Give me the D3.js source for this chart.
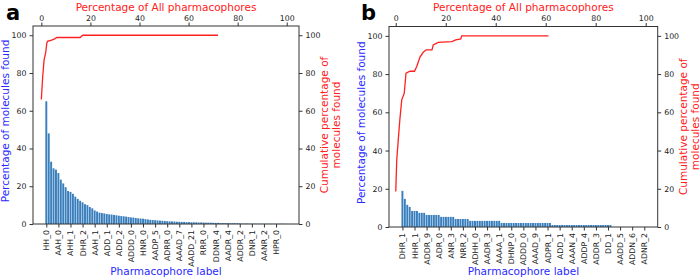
<!DOCTYPE html>
<html>
<head>
<meta charset="utf-8">
<script src="https://cdn.jsdelivr.net/npm/d3@7/dist/d3.min.js"></script>
<style>
  body { margin: 0; background: #fff; }
  text { font-family: "DejaVu Sans", sans-serif; }
</style>
</head>
<body>
<div id="canvas"></div>
<script>
// chart size
const width = 700, height = 278;

// ---- panel a data ----
// percentage of molecules found, one value per pharmacophore (sorted)
const barsA = [
  65, 48, 33, 29.5, 28.8, 27, 23.5, 21.5, 19.5, 17.5,
  17, 16, 14.5, 13.3, 12.3, 11.5, 10.5, 10, 9, 8.3,
  7.2, 6.6, 6, 5.8, 5.6, 5.3, 5.1, 5.0, 4.8, 4.6,
  4.4, 4.2, 4.1, 3.9, 3.7, 3.5, 3.4, 3.2, 3.0, 2.9,
  2.8, 2.6, 2.4, 2.2, 2.1, 2.0, 1.9, 1.8, 1.7, 1.6,
  1.5, 1.4, 1.4, 1.3, 1.2, 1.2, 1.1, 1.1, 1.0, 1.0,
  0.9, 0.9, 0.9, 0.8, 0.8, 0.8, 0.7, 0.7, 0.7, 0.6,
  0.6, 0.6, 0.5, 0.5, 0.5, 0.5, 0.4, 0.4, 0.4, 0.4,
  0.3, 0.2, 0.2, 0.2, 0.15, 0.15, 0.15, 0.1, 0.1, 0.1,
  0.1, 0.1, 0.1, 0.1, 0.1, 0.1, 0.1, 0.1, 0.1, 0.1
];
// every 5th pharmacophore gets a tick label
const tickLabelsA = ["HH_0", "AAH_0", "AHH_1", "DHR_2", "AAH_1", "ADD_1", "ADD_2", "ADDD_0",
  "HNR_0", "AADP_5", "ADRR_0", "AAAD_7", "AADD_21", "RRR_0", "DDNR_4", "AADR_4",
  "ADDR_2", "DNR_1", "AANR_2", "HPR_0"];
// cumulative percentage of molecules vs percentage of all pharmacophores
const cumXA = [0, 0.55, 1.1, 1.8, 2.2, 2.5, 4.2, 5.6, 6.3, 15.8, 16.9, 72];
const cumYA = [66, 78, 86.8, 91, 95.6, 96.8, 97.4, 98.2, 98.8, 98.8, 100, 100];

// ---- panel b data ----
const barsB = [
  18.9, 14.7, 11.6, 10.5, 8.4, 8.4, 8.4, 7.4, 7.4, 7.4,
  6.3, 6.3, 6.3, 6.3, 6.3, 6.3, 5.3, 5.3, 5.3, 5.3,
  5.3, 5.3, 4.2, 4.2, 4.2, 4.2, 4.2, 4.2, 3.2, 3.2,
  3.2, 3.2, 3.2, 3.2, 3.2, 3.2, 3.2, 3.2, 3.2, 3.2,
  3.2, 2.1, 2.1, 2.1, 2.1, 2.1, 2.1, 2.1, 2.1, 2.1,
  2.1, 2.1, 2.1, 2.1, 2.1, 2.1, 2.1, 2.1, 2.1, 2.1,
  2.1, 2.1, 1.05, 1.05, 1.05, 1.05, 1.05, 1.05, 1.05, 1.05,
  1.05, 1.05, 1.05, 1.05, 1.05, 1.05, 1.05, 1.05, 1.05, 1.05,
  1.05, 1.05, 1.05, 1.05, 1.05, 1.05, 1.05, 0, 0, 0,
  0, 0, 0, 0, 0, 0, 0, 0, 0, 0, 0
];
const tickLabelsB = ["DHR_1", "HHR_1", "ADDR_9", "ADR_0", "ANR_3", "NRR_2", "ADHH_0", "AADR_3",
  "AAAA_1", "DHNP_0", "ADDD_0", "AAAD_9", "ADPR_1", "ADD_1", "AAAN_4", "ADDP_4",
  "ADDR_3", "DD_1", "AADD_5", "ADDN_6", "ADNR_2"];
const cumXB = [0, 0.4, 0.8, 1.2, 1.7, 2.4, 3.4, 4.1, 5.7, 7.5, 8.4, 9.7, 11, 12.2, 14.5, 15, 17, 22.5, 24, 26, 26.4, 61.1];
const cumYB = [18.6, 35.2, 42, 49, 57, 66.5, 70, 80.5, 81.5, 81.5, 84, 88.9, 91.4, 92.7, 92.7, 95.3, 96.6, 97, 97.9, 98.4, 100, 100];

const pctTicks = [0, 20, 40, 60, 80, 100];

const svg = d3.select("#canvas")
  .append("svg")
  .attr("width", width)
  .attr("height", height);

const barColor = "#3a7fbd";
const frameColor = "#333";

function drawPanel(p) {
  const g = svg.append("g");
  const n = p.bars.length;

  // bottom categorical axis, matplotlib style margins of 5%
  const x = d3.scaleLinear()
    .domain([-0.5 - 0.05 * n, n - 0.5 + 0.05 * n])
    .range([p.left, p.right]);
  const xTop = d3.scaleLinear().domain(p.topDomain).range([p.left, p.right]);
  const y = d3.scaleLinear().domain([0, 104.9]).range([p.bottom, p.top]);
  const bw = x(0.8) - x(0);

  g.selectAll("rect.bar")
    .data(p.bars)
    .join("rect")
    .attr("class", "bar")
    .attr("x", (d, i) => x(i) - bw / 2)
    .attr("y", d => y(d))
    .attr("width", bw)
    .attr("height", d => y(0) - y(d))
    .attr("fill", barColor);

  // cumulative line on the top axis
  const line = d3.line()
    .x(d => xTop(d[0]))
    .y(d => y(d[1]));
  g.append("path")
    .datum(d3.zip(p.cumX, p.cumY))
    .attr("d", line)
    .attr("fill", "none")
    .attr("stroke", "#ff2020")
    .attr("stroke-width", 1.3);

  // axes
  const styleAxis = sel => {
    sel.selectAll("path.domain").remove();
    sel.selectAll(".tick line").attr("stroke", frameColor);
    sel.selectAll(".tick text").attr("fill", "#222").style("font-size", "7.8px");
  };
  const every = p.every;
  g.append("g")
    .attr("transform", `translate(0,${p.bottom})`)
    .call(d3.axisBottom(x)
      .tickValues(d3.range(0, n, every))
      .tickFormat(d => p.labels[d / every])
      .tickSize(3.5).tickPadding(2))
    .call(styleAxis)
    .call(s => s.selectAll(".tick text")
      .attr("transform", "rotate(-90)")
      .attr("text-anchor", "end")
      .attr("x", -6)
      .attr("y", 0)
      .attr("dy", "0.32em"));

  g.append("g")
    .attr("transform", `translate(0,${p.top})`)
    .call(d3.axisTop(xTop).tickValues(pctTicks).tickSize(3.5).tickPadding(2))
    .call(styleAxis);

  g.append("g")
    .attr("transform", `translate(${p.left},0)`)
    .call(d3.axisLeft(y).tickValues(pctTicks).tickSize(3.5).tickPadding(3))
    .call(styleAxis);

  g.append("g")
    .attr("transform", `translate(${p.right},0)`)
    .call(d3.axisRight(y).tickValues(pctTicks).tickSize(3.5).tickPadding(3))
    .call(styleAxis);

  // frame
  g.append("rect")
    .attr("x", p.left).attr("y", p.top)
    .attr("width", p.right - p.left).attr("height", p.bottom - p.top)
    .attr("fill", "none").attr("stroke", frameColor).attr("stroke-width", 1);

  const cx = (p.left + p.right) / 2, cy = (p.top + p.bottom) / 2;

  g.append("text")
    .attr("x", cx).attr("y", 11)
    .attr("text-anchor", "middle")
    .attr("fill", "#ff2020")
    .style("font-size", "10.5px")
    .text("Percentage of All pharmacophores");

  g.append("text")
    .attr("x", cx).attr("y", 274.5)
    .attr("text-anchor", "middle")
    .attr("fill", "#2a2aff")
    .style("font-size", "10.5px")
    .text("Pharmacophore label");

  g.append("text")
    .attr("transform", `translate(${p.left - 24.5},${cy - 4}) rotate(-90)`)
    .attr("text-anchor", "middle")
    .attr("fill", "#2a2aff")
    .style("font-size", "10.5px")
    .text("Percentage of molecules found");

  const rl = g.append("text")
    .attr("transform", `translate(${p.right + 29},${cy}) rotate(-90)`)
    .attr("text-anchor", "middle")
    .attr("fill", "#ff2020")
    .style("font-size", "10.5px");
  rl.append("tspan").attr("x", 0).attr("dy", 0).text("Cumulative percentage of");
  rl.append("tspan").attr("x", 0).attr("dy", 12).text("molecules found");

  g.append("text")
    .attr("x", p.letterX).attr("y", 20)
    .attr("fill", "#000")
    .style("font-size", "21px")
    .style("font-weight", "bold")
    .text(p.letter);
}

drawPanel({
  letter: "a", letterX: 6,
  left: 33, right: 299, top: 26, bottom: 224,
  bars: barsA, labels: tickLabelsA, every: 5,
  cumX: cumXA, cumY: cumYA, topDomain: [-3.4, 105]
});

drawPanel({
  letter: "b", letterX: 361,
  left: 389, right: 657.7, top: 26.5, bottom: 227,
  bars: barsB, labels: tickLabelsB, every: 5,
  cumX: cumXB, cumY: cumYB, topDomain: [-2.7, 104.8]
});
</script>
</body>
</html>
